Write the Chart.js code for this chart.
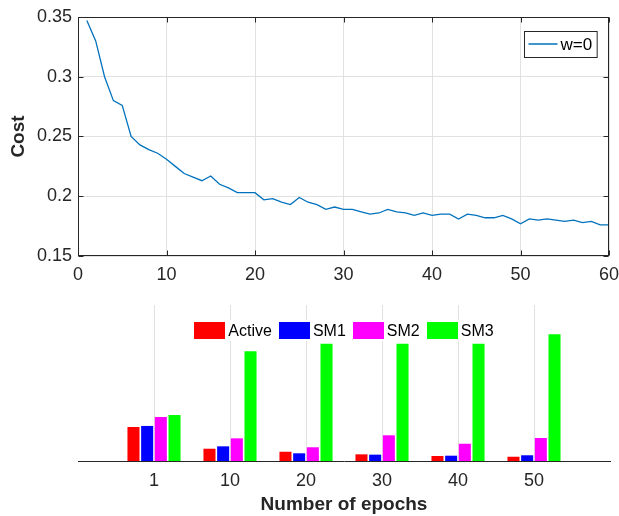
<!DOCTYPE html>
<html><head><meta charset="utf-8">
<script src="https://cdn.jsdelivr.net/npm/chart.js@4.4.0/dist/chart.umd.min.js"></script>
<style>
html,body{margin:0;padding:0;background:#fff;width:619px;height:516px;overflow:hidden}
canvas{position:absolute;left:0}
#c1{top:0}
#c2{top:290px}
</style></head><body>
<canvas id="c1" width="619" height="290"></canvas>
<canvas id="c2" width="619" height="226"></canvas>
<script>
// ---- data: top chart ----
const epochs = Array.from({length: 60}, (_, i) => i + 1);
const costW0 = [
  0.347, 0.330, 0.300, 0.280, 0.276, 0.250, 0.243, 0.239, 0.236, 0.231,
  0.225, 0.219, 0.216, 0.213, 0.217, 0.210, 0.207, 0.203, 0.203, 0.203,
  0.197, 0.198, 0.195, 0.193, 0.199, 0.195, 0.193, 0.189, 0.191, 0.189,
  0.189, 0.187, 0.185, 0.186, 0.189, 0.187, 0.186, 0.184, 0.186, 0.184,
  0.185, 0.185, 0.181, 0.185, 0.184, 0.182, 0.182, 0.184, 0.181, 0.177,
  0.181, 0.180, 0.181, 0.180, 0.179, 0.180, 0.178, 0.179, 0.176, 0.176
];
const topSeriesLabel = 'w=0';
const xTickStep = 10;
const yTickValues = [0.15, 0.20, 0.25, 0.30, 0.35];

// ---- data: bottom chart ----
const epochCategories = ['1', '10', '20', '30', '40', '50'];
const seriesNames = ['Active', 'SM1', 'SM2', 'SM3'];
const activeValues = [0.327, 0.118, 0.089, 0.064, 0.048, 0.041];
const sm1Values    = [0.337, 0.141, 0.074, 0.061, 0.051, 0.055];
const sm2Values    = [0.423, 0.218, 0.132, 0.247, 0.166, 0.221];
const sm3Values    = [0.442, 1.055, 1.128, 1.128, 1.128, 1.218];
const seriesColors = ['#ff0000', '#0000ff', '#ff00ff', '#00ff00'];

const FONT = '"Liberation Sans", Arial, Helvetica, sans-serif';
Chart.defaults.font.family = FONT;
Chart.defaults.color = '#262626';

const AXIS = '#262626';
const GRID = '#e1e1e1';

function noPad(s) { s.paddingLeft = 0; s.paddingRight = 0; s.paddingTop = 0; s.paddingBottom = 0; }

// frame + inward ticks for top chart
const framePlugin = {
  id: 'frame',
  afterDatasetsDraw(chart) {
    const {ctx, chartArea: a, scales: {x, y}} = chart;
    ctx.save();
    ctx.strokeStyle = AXIS;
    ctx.lineWidth = 1;
    const L = Math.round(a.left) + 0.5, R = Math.round(a.right) - 0.5;
    const T = Math.round(a.top) + 0.5, B = Math.round(a.bottom) - 0.5;
    ctx.strokeRect(L, T, R - L, B - T);
    const tl = 5;
    ctx.beginPath();
    x.ticks.forEach(t => {
      const px = Math.round(x.getPixelForValue(t.value)) + 0.5;
      ctx.moveTo(px, B); ctx.lineTo(px, B - tl);
      ctx.moveTo(px, T); ctx.lineTo(px, T + tl);
    });
    y.ticks.forEach(t => {
      const py = Math.round(y.getPixelForValue(t.value)) + 0.5;
      ctx.moveTo(L, py); ctx.lineTo(L + tl, py);
      ctx.moveTo(R, py); ctx.lineTo(R - tl, py);
    });
    ctx.stroke();
    ctx.restore();
  },
  afterDraw(chart) {
    // legend box top-right inside the axes
    const {ctx, chartArea: a} = chart;
    const ds = chart.data.datasets[0];
    ctx.save();
    ctx.font = '17px ' + FONT;
    const tw = ctx.measureText(ds.label).width;
    const w = 4 + 29 + 3 + tw + 5, h = 26;
    const x0 = Math.round(a.right - 12 - w) + 0.5, y0 = Math.round(a.top + 14) + 0.5;
    ctx.fillStyle = '#fff';
    ctx.fillRect(x0, y0, w, h);
    ctx.strokeStyle = AXIS; ctx.lineWidth = 1;
    ctx.strokeRect(x0, y0, w, h);
    ctx.strokeStyle = ds.borderColor; ctx.lineWidth = 1.5;
    ctx.beginPath();
    ctx.moveTo(x0 + 4, y0 + 12.5); ctx.lineTo(x0 + 33, y0 + 12.5);
    ctx.stroke();
    ctx.fillStyle = '#000';
    ctx.textBaseline = 'middle';
    ctx.fillText(ds.label, x0 + 36, y0 + h / 2 + 1);
    ctx.restore();
  }
};

new Chart(document.getElementById('c1'), {
  type: 'line',
  data: {
    datasets: [{
      label: topSeriesLabel,
      data: epochs.map((e, i) => ({x: e, y: costW0[i]})),
      borderColor: '#0072BD',
      borderWidth: 1.3,
      pointRadius: 0,
      tension: 0,
      fill: false
    }]
  },
  options: {
    responsive: false,
    animation: false,
    layout: {padding: {left: 0, right: 10, top: 17, bottom: 0}},
    plugins: {legend: {display: false}, tooltip: {enabled: false}},
    scales: {
      x: {
        type: 'linear', min: 0, max: 60,
        ticks: {stepSize: xTickStep, font: {size: 18}, color: AXIS, padding: 8, maxRotation: 0},
        grid: {color: GRID, drawTicks: false},
        border: {display: false},
        afterFit(s) { s.height = 34; noPad(s); }
      },
      y: {
        type: 'linear', min: yTickValues[0], max: yTickValues[yTickValues.length - 1],
        afterBuildTicks(s) { s.ticks = yTickValues.map(v => ({value: v})); },
        ticks: {font: {size: 18}, color: AXIS, padding: 6, callback: v => String(+Number(v).toFixed(2))},
        grid: {color: GRID, drawTicks: false},
        border: {display: false},
        title: {display: true, text: 'Cost', color: AXIS, font: {size: 19, weight: 'bold'}, padding: {top: 7.6, bottom: 0}},
        afterFit(s) { s.width = 78; noPad(s); }
      }
    }
  },
  plugins: [framePlugin]
});

// legend for bar chart
const barLegend = {
  id: 'barLegend',
  afterDraw(chart) {
    const {ctx, chartArea: a} = chart;
    const items = chart.data.datasets;
    ctx.save();
    ctx.font = '16px ' + FONT;
    const bw = 31, bh = 17, gapT = 3, gapI = 7;
    const widths = items.map(d => ctx.measureText(d.label).width);
    const total = widths.reduce((s, w) => s + bw + gapT + w, 0) + gapI * (items.length - 1);
    let x = (a.left + a.right) / 2 - total / 2;
    const yTop = a.top + 17;
    ctx.fillStyle = '#fff';
    ctx.fillRect(x - 3, yTop - 2, total + 6, bh + 4);
    items.forEach((d, i) => {
      ctx.fillStyle = d.backgroundColor;
      ctx.fillRect(Math.round(x), yTop, bw, bh);
      ctx.fillStyle = '#000';
      ctx.textBaseline = 'middle';
      ctx.fillText(d.label, x + bw + gapT, yTop + bh / 2 + 1.5);
      x += bw + gapT + widths[i] + gapI;
    });
    ctx.restore();
  }
};

const barSeries = [activeValues, sm1Values, sm2Values, sm3Values];
const paddedLabels = ['', ...epochCategories, ''];

new Chart(document.getElementById('c2'), {
  type: 'bar',
  data: {
    labels: paddedLabels,
    datasets: seriesNames.map((n, i) => ({
      label: n,
      data: [null, ...barSeries[i], null],
      backgroundColor: seriesColors[i],
      borderWidth: 0,
      categoryPercentage: 0.72,
      barPercentage: 0.88
    }))
  },
  options: {
    responsive: false,
    animation: false,
    layout: {padding: {left: 78, right: 9, top: 15, bottom: 0}},
    plugins: {legend: {display: false}, tooltip: {enabled: false}},
    scales: {
      x: {
        offset: false,
        grid: {
          offset: false,
          color: c => (c.index === 0 || c.index === paddedLabels.length - 1) ? 'rgba(0,0,0,0)' : GRID,
          drawTicks: false
        },
        border: {display: true, color: AXIS, width: 1},
        ticks: {font: {size: 18}, color: AXIS, padding: 9, maxRotation: 0, autoSkip: false},
        title: {display: true, text: 'Number of epochs', color: AXIS, font: {size: 19, weight: 'bold'}, padding: {top: 0, bottom: 0}},
        afterFit(s) { s.height = 55; noPad(s); }
      },
      y: {display: false, min: 0, max: 1.5}
    }
  },
  plugins: [barLegend]
});
</script>
</body></html>
